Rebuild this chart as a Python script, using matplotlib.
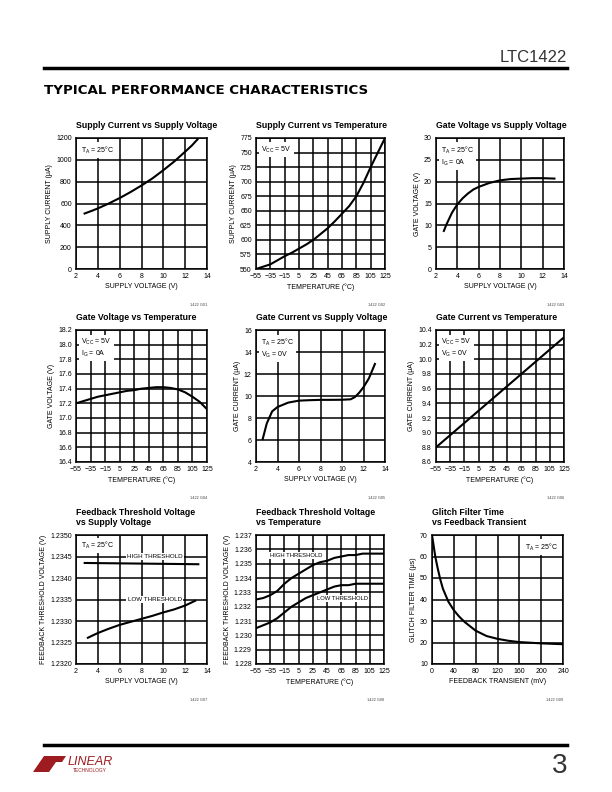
import matplotlib
matplotlib.use("Agg")
from matplotlib import pyplot as plt
from matplotlib.patches import Polygon

plt.rcParams['font.family'] = ['Liberation Sans Narrow', 'Liberation Sans', 'DejaVu Sans']
plt.rcParams['mathtext.fontset'] = 'custom'
plt.rcParams['mathtext.rm'] = 'Liberation Sans'

# --- data ---
sup_v1 = [2.7, 3.5, 4, 5, 6, 7, 8, 9, 10, 11, 12, 12.6, 13.2]
sup_i1 = [505, 535, 555, 600, 650, 705, 765, 830, 905, 985, 1075, 1130, 1195]

temp = [-55, -45, -35, -25, -15, -5, 5, 15, 25, 35, 45, 55, 65, 75, 85, 95, 105, 115, 125]
sup_i2 = [550, 554, 558, 565, 572, 578, 585, 592, 600, 610, 620, 632, 645, 658, 675, 698, 725, 750, 775]

gate_v_x = [2.7, 3, 3.5, 4, 4.5, 5, 5.5, 6, 7, 8, 9, 10, 11, 12, 13.2]
gate_v_y = [8.5, 10.3, 12.9, 14.8, 16.2, 17.3, 18.2, 18.8, 19.7, 20.3, 20.6, 20.7, 20.8, 20.8, 20.7]

gate_vt_y = [17.20, 17.23, 17.26, 17.29, 17.31, 17.33, 17.35, 17.37, 17.38, 17.40, 17.41,
             17.42, 17.42, 17.41, 17.39, 17.35, 17.29, 17.22, 17.12]

gate_i_x = [2.6, 3, 3.5, 4, 5, 6, 7, 8, 9, 10, 10.8, 11.2, 11.6, 12, 12.5, 13.1]
gate_i_y = [6.0, 7.5, 8.6, 9.0, 9.4, 9.58, 9.62, 9.65, 9.65, 9.66, 9.7, 9.9, 10.3, 10.8, 11.6, 13.0]

gate_it_x = [-55, 125]
gate_it_y = [8.8, 10.3]

fb_v_high_x = [2.7, 13.3]
fb_v_high_y = [1.23435, 1.23432]
fb_v_low_x = [3, 4, 5, 6, 7, 8, 9, 10, 11, 12, 13]
fb_v_low_y = [1.23260, 1.23272, 1.23282, 1.23291, 1.23298, 1.23305, 1.23312, 1.23320, 1.23327, 1.23336, 1.23348]

fb_t_x = [-55, -45, -35, -25, -15, -5, 5, 15, 25, 35, 45, 55, 65, 75, 85, 95, 105, 115, 125]
fb_t_high = [1.2325, 1.2326, 1.2328, 1.2331, 1.2336, 1.2340, 1.2343, 1.2346, 1.2349, 1.2351,
             1.2352, 1.2354, 1.2355, 1.2356, 1.2356, 1.2357, 1.2357, 1.2357, 1.2357]
fb_t_low = [1.2305, 1.2307, 1.2309, 1.2312, 1.2316, 1.2320, 1.2323, 1.2326, 1.2328, 1.2330,
            1.2332, 1.2334, 1.2335, 1.2335, 1.2336, 1.2336, 1.2336, 1.2336, 1.2336]

glitch_x = [0, 3, 6, 10, 15, 20, 25, 30, 40, 50, 60, 70, 80, 100, 120, 140, 160, 180, 200, 220, 240]
glitch_y = [70, 65, 60, 55, 49.5, 45, 42, 39, 35, 32, 29.5, 27.5, 25.5, 23, 21.7, 20.8, 20.2, 19.9, 19.6, 19.4, 19.2]

temp_ticks = [-55, -35, -15, 5, 25, 45, 65, 85, 105, 125]
temp_labels = ['\u221255', '\u221235', '\u221215', '5', '25', '45', '65', '85', '105', '125']

W, H = 612, 792
fig = plt.figure(figsize=(W / 100, H / 100), dpi=100)

cols = [(76, 207), (256, 385), (436, 564)]
rows = [(138, 269), (330, 462), (535, 664)]


def make_ax(c, r, x1=None):
    x0, xe = cols[c]
    if x1 is not None:
        x0, xe = x1
    y0, y1 = rows[r]
    return fig.add_axes([x0 / W, 1 - y1 / H, (xe - x0) / W, (y1 - y0) / H])


def style(ax, xticks, yticks, xlabels=None, ylabels=None, xlabel='', ylabel='', title='', code=''):
    ax.set_xlim(xticks[0], xticks[-1])
    ax.set_ylim(yticks[0], yticks[-1])
    ax.set_xticks(xticks)
    ax.set_yticks(yticks)
    if xlabels is not None:
        ax.set_xticklabels(xlabels)
    if ylabels is not None:
        ax.set_yticklabels(ylabels)
    ax.tick_params(length=0, labelsize=5, pad=3)
    ax.grid(True, color='black', linewidth=1.1)
    for s in ax.spines.values():
        s.set_linewidth(1.1)
    ax.set_xlabel(xlabel, fontsize=5, labelpad=2)
    ax.set_ylabel(ylabel, fontsize=5, labelpad=2)
    ax.set_title(title, fontsize=6.3, fontweight='bold', loc='left', x=0.0, pad=7, linespacing=1.15)
    ax.text(1.0, -0.26, code, transform=ax.transAxes, fontsize=2.8, ha='right', va='top', color='#444444')


def note(ax, x, y, s, ha='left'):
    ax.text(x, y, s, transform=ax.transAxes, fontsize=5, ha=ha, va='top', linespacing=1.3,
            bbox=dict(facecolor='white', edgecolor='none', pad=1.5))


def tag(ax, x, y, s, ha='left', va='center', size=4.5):
    ax.text(x, y, s, fontsize=size, ha=ha, va=va,
            bbox=dict(facecolor='white', edgecolor='none', pad=0.8))


line_kw = dict(color='black', linewidth=1.5, solid_capstyle='butt')
TA = r'T$_\mathregular{A}$ = 25°C'

# row 1
ax = make_ax(0, 0)
ax.plot(sup_v1, sup_i1, **line_kw)
style(ax, list(range(2, 15, 2)), list(range(0, 1201, 200)), xlabel='SUPPLY VOLTAGE (V)',
      ylabel='SUPPLY CURRENT (\u03bcA)', title='Supply Current vs Supply Voltage', code='1422 G01')
note(ax, 0.04, 0.95, TA)

ax = make_ax(1, 0)
ax.plot(temp, sup_i2, **line_kw)
style(ax, temp_ticks, list(range(550, 776, 25)), xlabels=temp_labels, xlabel='TEMPERATURE (°C)',
      ylabel='SUPPLY CURRENT (\u03bcA)', title='Supply Current vs Temperature', code='1422 G02')
note(ax, 0.04, 0.95, r'V$_\mathregular{CC}$ = 5V')

ax = make_ax(2, 0)
ax.plot(gate_v_x, gate_v_y, **line_kw)
style(ax, list(range(2, 15, 2)), list(range(0, 31, 5)), xlabel='SUPPLY VOLTAGE (V)',
      ylabel='GATE VOLTAGE (V)', title='Gate Voltage vs Supply Voltage', code='1422 G03')
note(ax, 0.04, 0.95, TA + '\n' + r'I$_\mathregular{G}$ = 0A')

# row 2
ax = make_ax(0, 1)
ax.plot(temp, gate_vt_y, **line_kw)
yt = [round(16.4 + 0.2 * i, 1) for i in range(10)]
style(ax, temp_ticks, yt, xlabels=temp_labels, ylabels=[f'{v:.1f}' for v in yt], xlabel='TEMPERATURE (°C)',
      ylabel='GATE VOLTAGE (V)', title='Gate Voltage vs Temperature', code='1422 G04')
note(ax, 0.04, 0.95, r'V$_\mathregular{CC}$ = 5V' + '\n' + r'I$_\mathregular{G}$ = 0A')

ax = make_ax(1, 1)
ax.plot(gate_i_x, gate_i_y, **line_kw)
style(ax, list(range(2, 15, 2)), list(range(4, 17, 2)), xlabel='SUPPLY VOLTAGE (V)',
      ylabel='GATE CURRENT (\u03bcA)', title='Gate Current vs Supply Voltage', code='1422 G05')
note(ax, 0.04, 0.95, TA + '\n' + r'V$_\mathregular{G}$ = 0V')

ax = make_ax(2, 1)
ax.plot(gate_it_x, gate_it_y, **line_kw)
yt = [round(8.6 + 0.2 * i, 1) for i in range(10)]
style(ax, temp_ticks, yt, xlabels=temp_labels, ylabels=[f'{v:.1f}' for v in yt], xlabel='TEMPERATURE (°C)',
      ylabel='GATE CURRENT (\u03bcA)', title='Gate Current vs Temperature', code='1422 G06')
note(ax, 0.04, 0.95, r'V$_\mathregular{CC}$ = 5V' + '\n' + r'V$_\mathregular{G}$ = 0V')

# row 3
ax = make_ax(0, 2)
ax.plot(fb_v_high_x, fb_v_high_y, **line_kw)
ax.plot(fb_v_low_x, fb_v_low_y, **line_kw)
yt = [round(1.2320 + 0.0005 * i, 4) for i in range(7)]
style(ax, list(range(2, 15, 2)), yt, ylabels=[f'{v:.4f}' for v in yt], xlabel='SUPPLY VOLTAGE (V)',
      ylabel='FEEDBACK THRESHOLD VOLTAGE (V)', title='Feedback Threshold Voltage\nvs Supply Voltage',
      code='1422 G07')
note(ax, 0.04, 0.96, TA)
tag(ax, 9.2, 1.2345, 'HIGH THRESHOLD', ha='center')
tag(ax, 9.2, 1.2335, 'LOW THRESHOLD', ha='center')

ax = make_ax(1, 2, x1=(256, 384))
ax.plot(fb_t_x, fb_t_high, **line_kw)
ax.plot(fb_t_x, fb_t_low, **line_kw)
yt = [round(1.228 + 0.001 * i, 3) for i in range(10)]
style(ax, temp_ticks, yt, xlabels=temp_labels, ylabels=[f'{v:.3f}' for v in yt], xlabel='TEMPERATURE (°C)',
      ylabel='FEEDBACK THRESHOLD VOLTAGE (V)', title='Feedback Threshold Voltage\nvs Temperature',
      code='1422 G08')
tag(ax, -36, 1.23555, 'HIGH THRESHOLD', size=4.2)
tag(ax, 31, 1.23255, 'LOW THRESHOLD', size=4.2)

ax = make_ax(2, 2, x1=(432, 563))
ax.plot(glitch_x, glitch_y, **line_kw)
style(ax, list(range(0, 241, 40)), list(range(10, 71, 10)), xlabel='FEEDBACK TRANSIENT (mV)',
      ylabel='GLITCH FILTER TIME (\u03bcs)', title='Glitch Filter Time\nvs Feedback Transient',
      code='1422 G09')
note(ax, 0.96, 0.95, TA, ha='right')

# page decorations
fig.text(567 / W, 1 - 57 / H, 'LTC1422', fontsize=12, ha='right', va='center', color='#333333')
fig.add_artist(plt.Line2D([44 / W, 567 / W], [1 - 68 / H, 1 - 68 / H], color='black', linewidth=2.5))
fig.text(44 / W, 1 - 91 / H, 'TYPICAL PERFORMANCE CHARACTERISTICS', fontsize=9.6, fontweight='heavy',
         ha='left', va='center', family=['DejaVu Sans'])
fig.add_artist(plt.Line2D([44 / W, 567 / W], [1 - 745 / H, 1 - 745 / H], color='black', linewidth=2.5))
fig.text(567 / W, 1 - 766 / H, '3', fontsize=20, ha='right', va='center', color='#333333')

red = '#9e1b20'
logo = Polygon([[33 / W, 1 - 772 / H], [44 / W, 1 - 756 / H], [66 / W, 1 - 756 / H],
                [62 / W, 1 - 762 / H], [56 / W, 1 - 762 / H], [49 / W, 1 - 772 / H]],
               closed=True, transform=fig.transFigure, facecolor=red, edgecolor='none')
fig.add_artist(logo)
fig.text(68 / W, 1 - 762 / H, 'LINEAR', fontsize=9, color=red, ha='left', va='center', fontstyle='italic')
fig.text(73 / W, 1 - 770 / H, 'TECHNOLOGY', fontsize=3.5, color=red, ha='left', va='center')

fig.savefig('out.png', dpi=100)
